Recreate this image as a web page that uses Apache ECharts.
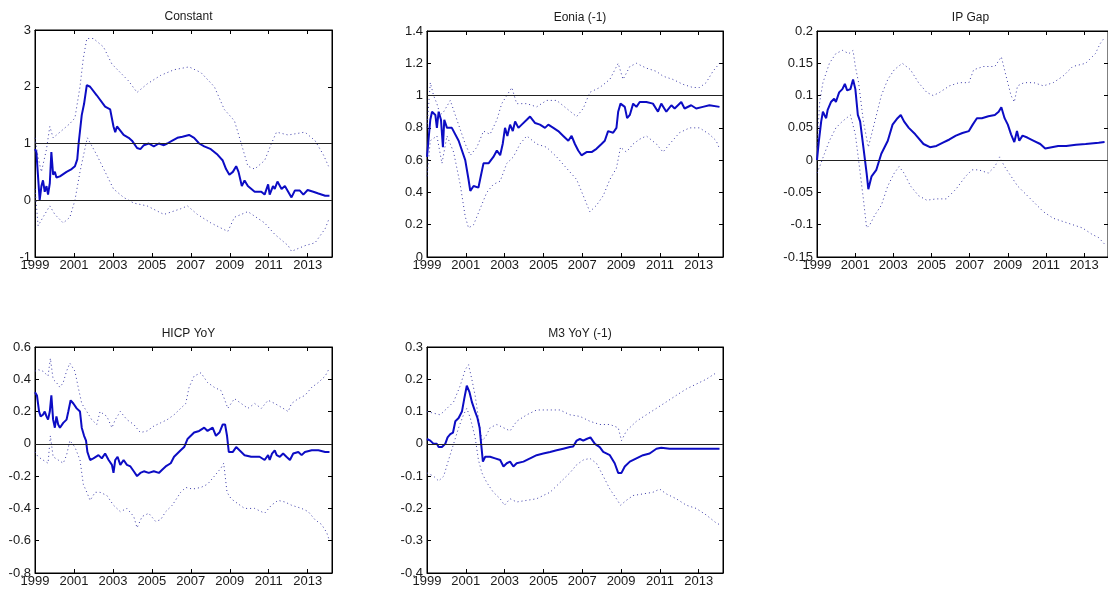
<!DOCTYPE html>
<html>
<head>
<meta charset="utf-8">
<script src="https://cdn.jsdelivr.net/npm/echarts@6/dist/echarts.min.js"></script>
<style>
  html, body { margin: 0; padding: 0; background: #fff; }
  #chart { width: 1108px; height: 593px; }
</style>
</head>
<body>
<div id="chart"></div>
<script>
// Time-varying coefficient estimates (solid) with their confidence bands (dotted).
// Each point is [year, value].

const yearTicks = [1999, 2001, 2003, 2005, 2007, 2009, 2011, 2013];

// ---- Constant ----
const constantEst = [
  [1999.00,0.90],[1999.07,0.85],[1999.14,0.50],[1999.24,0.00],[1999.33,0.25],[1999.41,0.35],
  [1999.50,0.15],[1999.59,0.25],[1999.67,0.10],[1999.76,0.30],[1999.84,0.85],[1999.93,0.45],
  [2000.02,0.50],[2000.10,0.40],[2000.28,0.42],[2000.62,0.50],[2000.88,0.55],[2001.05,0.60],
  [2001.17,0.72],[2001.24,1.00],[2001.40,1.50],[2001.52,1.70],[2001.66,2.03],[2001.83,2.00],
  [2002.17,1.85],[2002.60,1.65],[2002.86,1.60],[2003.03,1.30],[2003.12,1.20],[2003.21,1.30],
  [2003.55,1.15],[2003.81,1.10],[2003.98,1.05],[2004.24,0.92],[2004.41,0.90],[2004.59,0.97],
  [2004.84,1.00],[2005.10,0.95],[2005.36,1.00],[2005.62,0.97],[2005.79,1.00],[2006.05,1.05],
  [2006.31,1.10],[2006.57,1.12],[2006.91,1.15],[2007.17,1.10],[2007.43,1.00],[2007.69,0.95],
  [2008.03,0.90],[2008.38,0.80],[2008.64,0.70],[2008.81,0.55],[2008.98,0.45],[2009.16,0.50],
  [2009.33,0.60],[2009.45,0.50],[2009.62,0.25],[2009.76,0.35],[2009.93,0.25],[2010.28,0.15],
  [2010.62,0.15],[2010.79,0.10],[2010.97,0.28],[2011.05,0.10],[2011.22,0.25],[2011.31,0.20],
  [2011.45,0.33],[2011.66,0.20],[2011.83,0.25],[2012.00,0.15],[2012.17,0.05],[2012.34,0.17],
  [2012.60,0.17],[2012.78,0.10],[2013.00,0.18],[2013.29,0.15],[2013.55,0.12],[2013.90,0.08],
  [2014.12,0.08]
];
const constantUpper = [
  [1999.00,1.10],[1999.16,0.75],[1999.33,0.50],[1999.59,0.90],[1999.76,1.30],[1999.93,1.10],
  [2000.28,1.20],[2000.79,1.35],[2001.05,1.45],[2001.31,2.00],[2001.48,2.50],[2001.66,2.85],
  [2002.00,2.85],[2002.52,2.70],[2002.95,2.40],[2003.38,2.25],[2003.81,2.10],[2004.24,1.90],
  [2004.76,2.05],[2005.45,2.20],[2006.14,2.30],[2006.91,2.35],[2007.52,2.25],[2008.21,2.00],
  [2008.72,1.60],[2009.24,1.40],[2009.59,1.00],[2009.93,0.60],[2010.28,0.55],[2010.79,0.70],
  [2011.14,1.00],[2011.40,1.20],[2012.00,1.15],[2012.86,1.20],[2013.38,1.05],[2013.81,0.80],
  [2014.07,0.60]
];
const constantLower = [
  [1999.00,0.20],[1999.16,-0.45],[1999.41,-0.30],[1999.76,-0.10],[2000.02,-0.25],[2000.45,-0.40],
  [2000.79,-0.30],[2001.05,0.00],[2001.31,0.50],[2001.62,1.00],[2001.69,1.10],[2002.17,0.80],
  [2002.60,0.50],[2003.03,0.20],[2003.55,0.05],[2004.07,-0.05],[2004.76,-0.10],[2005.62,-0.25],
  [2006.48,-0.15],[2006.83,-0.10],[2007.34,-0.25],[2008.03,-0.40],[2008.90,-0.55],[2009.24,-0.30],
  [2009.93,-0.20],[2010.79,-0.40],[2011.31,-0.60],[2012.00,-0.80],[2012.17,-0.90],[2012.86,-0.80],
  [2013.38,-0.75],[2013.90,-0.50],[2014.07,-0.35]
];

// ---- Eonia (-1) ----
const eoniaEst = [
  [1999.00,0.62],[1999.17,0.85],[1999.26,0.90],[1999.43,0.88],[1999.51,0.80],[1999.60,0.90],
  [1999.72,0.85],[1999.82,0.68],[1999.89,0.85],[2000.03,0.80],[2000.28,0.80],[2000.63,0.72],
  [2000.97,0.60],[2001.14,0.48],[2001.23,0.41],[2001.40,0.44],[2001.65,0.43],[2001.77,0.50],
  [2001.91,0.58],[2002.17,0.58],[2002.42,0.62],[2002.60,0.66],[2002.77,0.63],[2002.90,0.70],
  [2003.02,0.80],[2003.14,0.75],[2003.28,0.82],[2003.42,0.78],[2003.54,0.84],[2003.71,0.80],
  [2003.88,0.82],[2004.14,0.85],[2004.31,0.87],[2004.57,0.83],[2004.82,0.82],[2005.08,0.80],
  [2005.25,0.82],[2005.51,0.80],[2005.76,0.78],[2006.02,0.75],[2006.28,0.72],[2006.45,0.75],
  [2006.62,0.70],[2006.79,0.66],[2006.96,0.63],[2007.22,0.65],[2007.48,0.65],[2007.73,0.67],
  [2007.99,0.70],[2008.16,0.72],[2008.33,0.78],[2008.59,0.77],[2008.76,0.80],[2008.85,0.90],
  [2008.97,0.95],[2009.19,0.93],[2009.31,0.86],[2009.45,0.88],[2009.62,0.95],[2009.79,0.93],
  [2009.96,0.96],[2010.30,0.96],[2010.64,0.95],[2010.73,0.96],[2010.90,0.90],[2011.07,0.95],
  [2011.33,0.90],[2011.59,0.94],[2011.76,0.92],[2012.10,0.96],[2012.27,0.92],[2012.61,0.94],
  [2012.87,0.92],[2013.21,0.93],[2013.55,0.94],[2014.07,0.93]
];
const eoniaUpper = [
  [1999.00,0.80],[1999.17,1.08],[1999.34,1.00],[1999.51,0.95],[1999.68,0.88],[1999.86,0.90],
  [2000.20,0.97],[2000.54,0.85],[2000.97,0.70],[2001.23,0.63],[2001.57,0.68],[2001.91,0.78],
  [2002.25,0.76],[2002.60,0.85],[2002.85,0.95],[2003.11,1.00],[2003.37,1.05],[2003.62,0.95],
  [2004.14,0.95],[2004.65,0.93],[2005.16,0.97],[2005.68,0.97],[2006.19,0.92],[2006.71,0.87],
  [2007.05,0.92],[2007.39,1.02],[2007.90,1.05],[2008.42,1.10],[2008.85,1.20],[2009.10,1.10],
  [2009.45,1.18],[2009.79,1.20],[2010.30,1.17],[2010.82,1.15],[2011.16,1.12],[2011.67,1.10],
  [2012.18,1.07],[2012.70,1.05],[2013.04,1.05],[2013.38,1.08],[2013.73,1.15],[2014.07,1.20]
];
const eoniaLower = [
  [1999.00,0.50],[1999.17,0.72],[1999.51,0.75],[1999.77,0.58],[2000.03,0.75],[2000.37,0.65],
  [2000.71,0.45],[2000.97,0.25],[2001.14,0.18],[2001.40,0.20],[2001.74,0.30],[2002.08,0.40],
  [2002.42,0.45],[2002.77,0.47],[2003.11,0.58],[2003.45,0.62],[2003.79,0.70],[2004.14,0.75],
  [2004.65,0.70],[2005.16,0.68],[2005.68,0.62],[2006.19,0.55],[2006.71,0.48],[2007.05,0.38],
  [2007.39,0.28],[2007.73,0.32],[2008.08,0.38],[2008.42,0.48],[2008.76,0.55],[2008.97,0.68],
  [2009.27,0.65],[2009.62,0.70],[2009.96,0.73],[2010.30,0.75],[2010.82,0.70],[2011.16,0.65],
  [2011.50,0.70],[2012.01,0.77],[2012.53,0.80],[2013.04,0.80],[2013.55,0.76],[2013.90,0.72],
  [2014.07,0.67]
];

// ---- IP Gap ----
const ipGapEst = [
  [1999.00,0.000],[1999.10,0.030],[1999.22,0.060],[1999.31,0.075],[1999.39,0.070],[1999.48,0.065],
  [1999.56,0.078],[1999.73,0.090],[1999.90,0.095],[1999.99,0.090],[2000.16,0.105],[2000.33,0.110],
  [2000.46,0.118],[2000.58,0.108],[2000.75,0.110],[2000.89,0.125],[2001.01,0.110],[2001.14,0.070],
  [2001.26,0.060],[2001.43,0.020],[2001.60,-0.020],[2001.69,-0.045],[2001.86,-0.025],[2002.11,-0.015],
  [2002.37,0.010],[2002.71,0.030],[2002.96,0.055],[2003.22,0.065],[2003.39,0.070],[2003.56,0.060],
  [2003.81,0.050],[2004.15,0.040],[2004.58,0.025],[2004.92,0.020],[2005.26,0.022],[2005.60,0.027],
  [2005.94,0.032],[2006.28,0.038],[2006.62,0.042],[2006.96,0.045],[2007.16,0.055],[2007.38,0.065],
  [2007.64,0.065],[2007.98,0.068],[2008.32,0.070],[2008.52,0.075],[2008.66,0.082],[2008.83,0.065],
  [2009.00,0.055],[2009.17,0.040],[2009.34,0.028],[2009.48,0.045],[2009.60,0.030],[2009.77,0.038],
  [2010.02,0.035],[2010.36,0.030],[2010.70,0.025],[2010.96,0.018],[2011.30,0.020],[2011.64,0.022],
  [2012.06,0.022],[2012.57,0.024],[2013.08,0.025],[2013.76,0.027],[2014.07,0.028]
];
const ipGapUpper = [
  [1999.00,0.020],[1999.14,0.090],[1999.31,0.120],[1999.65,0.150],[1999.99,0.165],[2000.33,0.170],
  [2000.67,0.165],[2000.89,0.170],[2001.01,0.145],[2001.18,0.120],[2001.43,0.060],[2001.69,0.020],
  [2002.03,0.060],[2002.37,0.100],[2002.71,0.125],[2003.05,0.140],[2003.47,0.150],[2003.90,0.140],
  [2004.32,0.120],[2004.75,0.105],[2005.09,0.100],[2005.43,0.105],[2005.94,0.115],[2006.45,0.120],
  [2006.96,0.120],[2007.21,0.140],[2007.72,0.145],[2008.32,0.145],[2008.66,0.160],[2008.91,0.130],
  [2009.17,0.100],[2009.34,0.090],[2009.51,0.115],[2009.85,0.120],[2010.36,0.120],[2010.87,0.115],
  [2011.38,0.120],[2011.89,0.130],[2012.40,0.145],[2013.08,0.150],[2013.59,0.165],[2013.83,0.180],
  [2014.07,0.190]
];
const ipGapLower = [
  [1999.00,-0.020],[1999.14,-0.010],[1999.39,0.010],[1999.65,0.030],[1999.99,0.050],[2000.33,0.060],
  [2000.75,0.070],[2001.01,0.040],[2001.18,0.000],[2001.43,-0.060],[2001.60,-0.105],[2001.77,-0.100],
  [2002.03,-0.085],[2002.37,-0.070],[2002.71,-0.040],[2003.05,-0.020],[2003.30,-0.010],[2003.56,-0.020],
  [2003.90,-0.040],[2004.32,-0.055],[2004.75,-0.062],[2005.26,-0.060],[2005.77,-0.060],[2006.28,-0.045],
  [2006.79,-0.025],[2007.13,-0.015],[2007.47,-0.015],[2007.98,-0.020],[2008.32,-0.010],[2008.57,0.005],
  [2008.83,-0.010],[2009.17,-0.025],[2009.51,-0.040],[2009.85,-0.050],[2010.36,-0.065],[2010.87,-0.080],
  [2011.38,-0.090],[2011.89,-0.095],[2012.40,-0.100],[2012.91,-0.105],[2013.42,-0.115],[2013.76,-0.120],
  [2014.07,-0.130]
];

// ---- HICP YoY ----
const hicpEst = [
  [1999.00,0.32],[1999.10,0.30],[1999.21,0.20],[1999.29,0.17],[1999.41,0.18],[1999.50,0.20],
  [1999.59,0.17],[1999.67,0.15],[1999.76,0.20],[1999.84,0.30],[1999.93,0.15],[2000.02,0.10],
  [2000.10,0.17],[2000.19,0.12],[2000.28,0.10],[2000.45,0.13],[2000.62,0.15],[2000.71,0.20],
  [2000.83,0.27],[2000.97,0.25],[2001.14,0.22],[2001.31,0.20],[2001.40,0.10],[2001.52,0.05],
  [2001.62,0.02],[2001.69,-0.05],[2001.83,-0.10],[2002.00,-0.09],[2002.26,-0.07],[2002.43,-0.09],
  [2002.60,-0.06],[2002.78,-0.10],[2002.95,-0.13],[2003.03,-0.18],[2003.12,-0.10],[2003.24,-0.08],
  [2003.38,-0.13],[2003.55,-0.10],[2003.72,-0.13],[2003.90,-0.14],[2004.07,-0.17],[2004.24,-0.20],
  [2004.41,-0.18],[2004.59,-0.17],[2004.84,-0.18],[2005.10,-0.17],[2005.36,-0.18],[2005.53,-0.16],
  [2005.71,-0.14],[2005.97,-0.12],[2006.14,-0.08],[2006.31,-0.06],[2006.48,-0.04],[2006.66,-0.02],
  [2006.83,0.03],[2007.00,0.05],[2007.17,0.07],[2007.43,0.08],[2007.69,0.10],[2007.86,0.08],
  [2008.12,0.10],[2008.29,0.05],[2008.47,0.07],[2008.64,0.12],[2008.76,0.12],[2008.86,0.05],
  [2008.95,-0.05],[2009.16,-0.05],[2009.33,-0.02],[2009.50,-0.04],[2009.76,-0.07],[2010.10,-0.08],
  [2010.53,-0.08],[2010.79,-0.10],[2010.97,-0.07],[2011.05,-0.10],[2011.17,-0.06],[2011.31,-0.04],
  [2011.41,-0.07],[2011.57,-0.08],[2011.74,-0.06],[2011.91,-0.08],[2012.09,-0.10],[2012.26,-0.06],
  [2012.52,-0.05],[2012.69,-0.07],[2012.86,-0.05],[2013.21,-0.04],[2013.55,-0.04],[2013.90,-0.05],
  [2014.12,-0.05]
];
const hicpUpper = [
  [1999.00,0.45],[1999.16,0.46],[1999.41,0.45],[1999.67,0.42],[1999.79,0.53],[1999.93,0.40],
  [2000.10,0.38],[2000.28,0.35],[2000.45,0.38],[2000.62,0.45],[2000.79,0.50],[2001.05,0.45],
  [2001.22,0.35],[2001.40,0.25],[2001.66,0.20],[2001.91,0.15],[2002.17,0.12],[2002.34,0.20],
  [2002.69,0.17],[2002.95,0.10],[2003.12,0.15],[2003.38,0.20],[2003.72,0.15],[2004.07,0.12],
  [2004.41,0.07],[2004.76,0.08],[2005.10,0.11],[2005.45,0.13],[2005.79,0.15],[2006.14,0.18],
  [2006.48,0.22],[2006.74,0.25],[2006.91,0.35],[2007.17,0.42],[2007.52,0.44],[2007.86,0.38],
  [2008.21,0.35],[2008.55,0.33],[2008.72,0.28],[2008.90,0.22],[2009.24,0.28],[2009.59,0.25],
  [2009.93,0.22],[2010.28,0.25],[2010.62,0.22],[2010.97,0.27],[2011.31,0.25],[2011.74,0.22],
  [2012.00,0.20],[2012.17,0.25],[2012.52,0.28],[2012.86,0.30],[2013.21,0.35],[2013.55,0.38],
  [2013.90,0.42],[2014.12,0.47]
];
const hicpLower = [
  [1999.00,-0.05],[1999.16,-0.08],[1999.41,-0.10],[1999.67,-0.12],[1999.79,0.05],[1999.93,-0.08],
  [2000.19,-0.10],[2000.45,-0.12],[2000.62,-0.07],[2000.79,0.02],[2001.05,-0.02],[2001.31,-0.10],
  [2001.48,-0.25],[2001.66,-0.30],[2001.83,-0.35],[2002.09,-0.30],[2002.34,-0.30],[2002.69,-0.32],
  [2003.03,-0.38],[2003.38,-0.42],[2003.72,-0.40],[2004.07,-0.45],[2004.24,-0.52],[2004.50,-0.45],
  [2004.84,-0.43],[2005.19,-0.48],[2005.45,-0.47],[2005.71,-0.42],[2006.05,-0.38],[2006.48,-0.30],
  [2006.74,-0.27],[2007.09,-0.28],[2007.52,-0.27],[2007.86,-0.25],[2008.21,-0.20],[2008.55,-0.15],
  [2008.69,-0.12],[2008.86,-0.30],[2009.07,-0.34],[2009.41,-0.37],[2009.76,-0.40],[2010.28,-0.40],
  [2010.79,-0.43],[2011.14,-0.38],[2011.48,-0.35],[2011.83,-0.36],[2012.17,-0.38],[2012.69,-0.40],
  [2013.03,-0.42],[2013.38,-0.47],[2013.72,-0.50],[2013.98,-0.55],[2014.12,-0.60]
];

// ---- M3 YoY (-1) ----
const m3Est = [
  [1999.00,0.015],[1999.17,0.010],[1999.34,0.000],[1999.51,0.000],[1999.60,-0.010],[1999.77,-0.010],
  [1999.94,0.000],[2000.06,0.020],[2000.20,0.030],[2000.34,0.035],[2000.46,0.070],[2000.63,0.080],
  [2000.80,0.100],[2000.92,0.140],[2001.05,0.180],[2001.19,0.160],[2001.31,0.130],[2001.48,0.100],
  [2001.60,0.080],[2001.71,0.050],[2001.79,0.000],[2001.88,-0.055],[2002.00,-0.040],[2002.25,-0.040],
  [2002.51,-0.045],[2002.77,-0.050],[2002.94,-0.070],[2003.11,-0.060],[2003.28,-0.055],[2003.45,-0.070],
  [2003.62,-0.060],[2003.97,-0.055],[2004.31,-0.045],[2004.65,-0.035],[2004.99,-0.030],[2005.34,-0.025],
  [2005.68,-0.020],[2006.02,-0.015],[2006.36,-0.010],[2006.53,-0.008],[2006.71,0.010],[2006.88,0.015],
  [2007.05,0.010],[2007.22,0.015],[2007.42,0.020],[2007.65,0.000],[2007.90,-0.010],[2008.08,-0.025],
  [2008.42,-0.035],[2008.67,-0.060],[2008.85,-0.090],[2009.02,-0.090],[2009.19,-0.070],[2009.45,-0.055],
  [2009.79,-0.045],[2010.13,-0.035],[2010.47,-0.030],[2010.82,-0.015],[2011.07,-0.012],[2011.50,-0.015],
  [2012.01,-0.015],[2012.53,-0.015],[2013.04,-0.015],[2013.55,-0.015],[2014.07,-0.015]
];
const m3Upper = [
  [1999.00,0.100],[1999.34,0.095],[1999.68,0.090],[2000.03,0.110],[2000.37,0.130],[2000.71,0.180],
  [2000.97,0.230],[2001.14,0.245],[2001.31,0.200],[2001.48,0.150],[2001.65,0.080],[2001.83,0.010],
  [2002.00,0.020],[2002.25,0.050],[2002.60,0.060],[2002.94,0.050],[2003.28,0.040],[2003.62,0.070],
  [2004.14,0.090],[2004.65,0.105],[2005.34,0.105],[2005.85,0.105],[2006.36,0.090],[2006.88,0.085],
  [2007.39,0.070],[2007.90,0.060],[2008.42,0.060],[2008.85,0.050],[2009.02,0.010],[2009.27,0.040],
  [2009.79,0.070],[2010.30,0.090],[2010.82,0.110],[2011.33,0.130],[2011.84,0.150],[2012.36,0.170],
  [2012.87,0.185],[2013.38,0.200],[2013.90,0.220]
];
const m3Lower = [
  [1999.00,-0.090],[1999.34,-0.100],[1999.60,-0.115],[1999.86,-0.100],[2000.11,-0.050],[2000.37,0.000],
  [2000.63,0.050],[2000.88,0.090],[2001.05,0.110],[2001.23,0.080],[2001.48,0.020],[2001.65,-0.050],
  [2001.83,-0.090],[2002.08,-0.120],[2002.42,-0.150],[2002.77,-0.170],[2002.99,-0.190],[2003.28,-0.170],
  [2003.62,-0.180],[2004.14,-0.175],[2004.65,-0.170],[2004.99,-0.160],[2005.34,-0.150],[2005.85,-0.120],
  [2006.36,-0.090],[2006.71,-0.065],[2007.05,-0.050],[2007.39,-0.045],[2007.73,-0.060],[2008.08,-0.100],
  [2008.42,-0.140],[2008.76,-0.170],[2008.97,-0.190],[2009.27,-0.175],[2009.62,-0.160],[2010.13,-0.155],
  [2010.64,-0.150],[2010.99,-0.140],[2011.33,-0.155],[2011.84,-0.170],[2012.36,-0.190],[2012.87,-0.200],
  [2013.38,-0.220],[2013.90,-0.245],[2014.07,-0.250]
];

// Panel titles, y ranges and horizontal reference levels
const titles = ['Constant', 'Eonia (-1)', 'IP Gap', 'HICP YoY', 'M3 YoY (-1)'];
const yMins = [-1, 0, -0.15, -0.8, -0.4];
const yMaxs = [3, 1.4, 0.2, 0.6, 0.3];
const ySteps = [1, 0.2, 0.05, 0.2, 0.1];
const refLevels = [[0, 1], [1], [0], [0], [0]];
const estimates = [constantEst, eoniaEst, ipGapEst, hicpEst, m3Est];
const uppers = [constantUpper, eoniaUpper, ipGapUpper, hicpUpper, m3Upper];
const lowers = [constantLower, eoniaLower, ipGapLower, hicpLower, m3Lower];

// Layout of the 2x3 subplot grid (pixels)
const boxes = [
  { left: 35,  top: 30,  width: 297, height: 227 },
  { left: 427, top: 31,  width: 296, height: 226 },
  { left: 817, top: 31,  width: 297, height: 226 },
  { left: 35,  top: 347, width: 297, height: 226 },
  { left: 427, top: 347, width: 296, height: 226 }
];

const FONT = '"Liberation Sans", Arial, Helvetica, sans-serif';
const TEXT = '#1a1a1a';
const AXIS = '#000';
const X_MIN = 1999, X_MAX = 2014.25;

const fmt = v => String(parseFloat((+v).toFixed(3)));

const option = {
  animation: false,
  backgroundColor: '#fff',
  title: [], grid: [], xAxis: [], yAxis: [], series: []
};

boxes.forEach((b, i) => {
  option.grid.push({ left: b.left, top: b.top, width: b.width, height: b.height,
    show: true, borderColor: AXIS, borderWidth: 1, containLabel: false });
  option.title.push({
    text: titles[i], left: b.left + b.width / 2, top: b.top - 24, textAlign: 'center',
    textStyle: { fontFamily: FONT, fontSize: 12, fontWeight: 'normal', color: TEXT }
  });
  const lineStyle = { color: AXIS, width: 1 };
  // bottom and top x axes (top one carries only inward ticks)
  option.xAxis.push({
    type: 'value', gridIndex: i, min: X_MIN, max: X_MAX, position: 'bottom',
    axisLine: { show: true, onZero: false, lineStyle },
    axisTick: { show: true, inside: true, length: 4, customValues: yearTicks, lineStyle },
    axisLabel: { show: true, customValues: yearTicks, margin: 2, fontFamily: FONT, fontSize: 13,
      color: TEXT, formatter: v => String(Math.round(v)), showMinLabel: true, showMaxLabel: true },
    splitLine: { show: false }
  });
  option.xAxis.push({
    type: 'value', gridIndex: i, min: X_MIN, max: X_MAX, position: 'top',
    axisLine: { show: true, onZero: false, lineStyle },
    axisTick: { show: true, inside: true, length: 4, customValues: yearTicks, lineStyle },
    axisLabel: { show: false }, splitLine: { show: false }
  });
  option.yAxis.push({
    type: 'value', gridIndex: i, min: yMins[i], max: yMaxs[i], interval: ySteps[i], position: 'left',
    axisLine: { show: true, onZero: false, lineStyle },
    axisTick: { show: true, inside: true, length: 4, lineStyle },
    axisLabel: { show: true, margin: 4, fontFamily: FONT, fontSize: 13, color: TEXT,
      formatter: fmt, showMinLabel: true, showMaxLabel: true },
    splitLine: { show: false }
  });
  option.yAxis.push({
    type: 'value', gridIndex: i, min: yMins[i], max: yMaxs[i], interval: ySteps[i], position: 'right',
    axisLine: { show: true, onZero: false, lineStyle },
    axisTick: { show: true, inside: true, length: 4, lineStyle },
    axisLabel: { show: false }, splitLine: { show: false }
  });

  const xi = 2 * i, yi = 2 * i;
  const dotted = { color: '#3a3aa8', width: 1, type: [1, 3] };
  option.series.push({
    type: 'line', xAxisIndex: xi, yAxisIndex: yi, data: uppers[i], showSymbol: false,
    lineStyle: dotted, silent: true, z: 2
  });
  option.series.push({
    type: 'line', xAxisIndex: xi, yAxisIndex: yi, data: lowers[i], showSymbol: false,
    lineStyle: dotted, silent: true, z: 2
  });
  option.series.push({
    type: 'line', xAxisIndex: xi, yAxisIndex: yi, data: estimates[i], showSymbol: false,
    lineStyle: { color: '#0c0cc4', width: 2 }, silent: true, z: 4,
    markLine: {
      silent: true, symbol: 'none', label: { show: false },
      lineStyle: { color: '#222', width: 1, type: 'solid' },
      data: refLevels[i].map(v => ({ yAxis: v }))
    }
  });
});

const chart = echarts.init(document.getElementById('chart'), null, { renderer: 'canvas' });
chart.setOption(option);
</script>
</body>
</html>
